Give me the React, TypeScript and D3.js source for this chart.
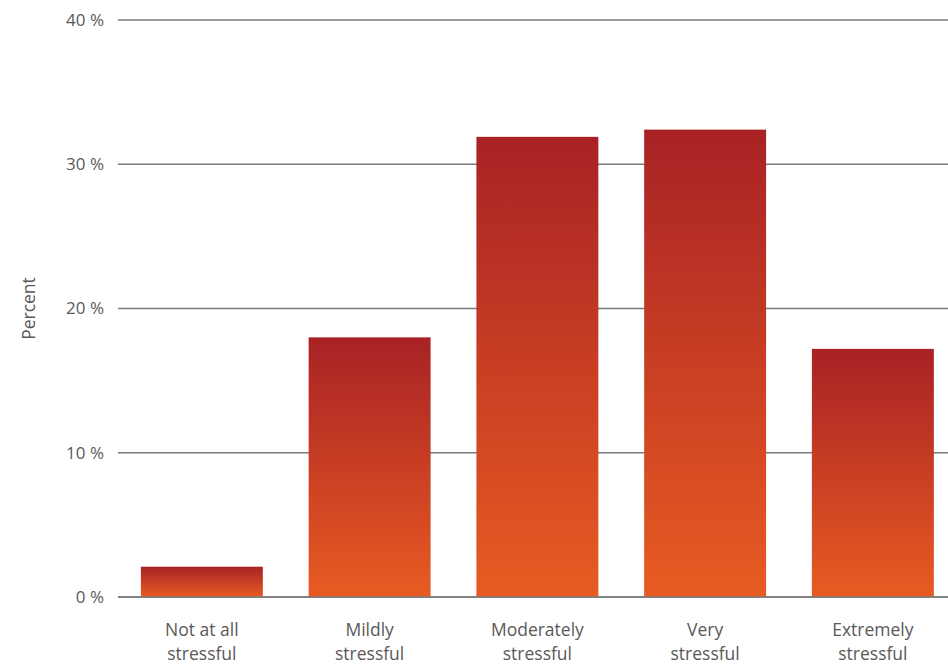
import React from "react";
import * as d3 from "d3";

const categories: string[][] = [
  ["Not at all", "stressful"],
  ["Mildly", "stressful"],
  ["Moderately", "stressful"],
  ["Very", "stressful"],
  ["Extremely", "stressful"],
];
const values: number[] = [2.1, 18.0, 31.9, 32.4, 17.2];
const yTicks: number[] = [0, 10, 20, 30, 40];

const W = 948;
const H = 664;
const left = 118;
const right = 956.75;
const top = 20;
const bottom = 597;

export default function App() {
  const x = d3
    .scaleBand<number>()
    .domain(values.map((_, i) => i))
    .range([left, right])
    .paddingInner(0.273)
    .paddingOuter(0.1365);
  const y = d3.scaleLinear().domain([0, 40]).range([bottom, top]);
  const font = "'Open Sans', 'Liberation Sans', sans-serif";
  const textColor = "#595959";

  return (
    <svg
      width={W}
      height={H}
      style={{ position: "absolute", left: 0, top: 0 }}
      fontFamily={font}
    >
      <defs>
        <linearGradient id="barGrad" x1="0" y1="0" x2="0" y2="1">
          <stop offset="0%" stopColor="#a82225" />
          <stop offset="100%" stopColor="#e85b22" />
        </linearGradient>
      </defs>
      {yTicks.map((t) => (
        <g key={t}>
          <line
            x1={left}
            x2={W}
            y1={y(t)}
            y2={y(t)}
            stroke="#7a7a7a"
            strokeWidth={1.5}
          />
          <text
            x={104}
            y={y(t)}
            dy="0.35em"
            textAnchor="end"
            fontSize={17}
            fill={textColor}
          >
            {t} %
          </text>
        </g>
      ))}
      {values.map((v, i) => (
        <rect
          key={i}
          x={x(i)}
          y={y(v)}
          width={x.bandwidth()}
          height={y(0) - y(v)}
          fill="url(#barGrad)"
        />
      ))}
      <line
        x1={left}
        x2={W}
        y1={y(0)}
        y2={y(0)}
        stroke="#7a7a7a"
        strokeWidth={1.5}
      />
      {categories.map((lines, i) => (
        <text
          key={i}
          x={(x(i) as number) + x.bandwidth() / 2}
          y={636}
          textAnchor="middle"
          fontSize={17.5}
          fill={textColor}
        >
          {lines.map((l, j) => (
            <tspan key={j} x={(x(i) as number) + x.bandwidth() / 2} dy={j === 0 ? 0 : 24}>
              {l}
            </tspan>
          ))}
        </text>
      ))}
      <text
        transform={`translate(35, ${(top + bottom) / 2}) rotate(-90)`}
        textAnchor="middle"
        fontSize={17.5}
        fill={textColor}
      >
        Percent
      </text>
    </svg>
  );
}
